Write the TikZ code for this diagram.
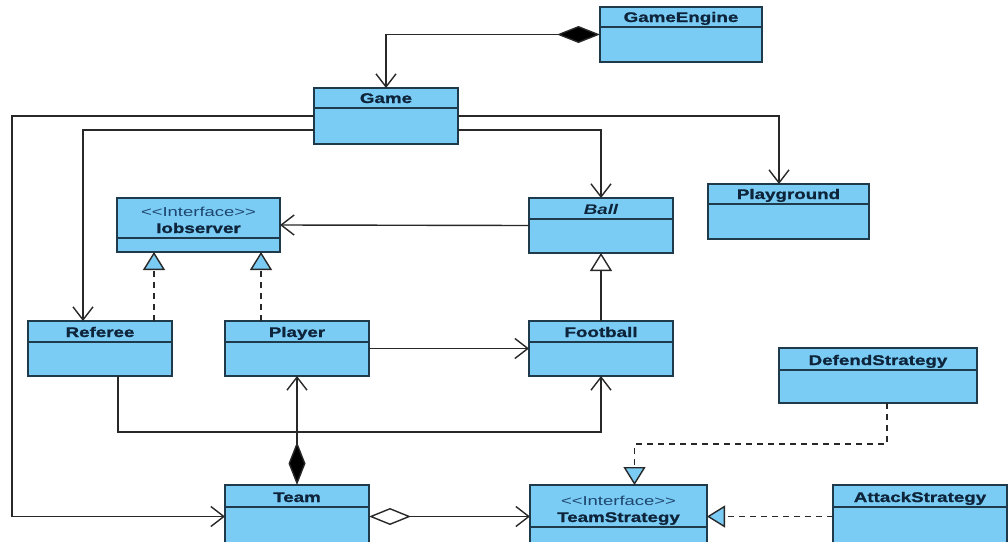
\documentclass[tikz,border=0pt]{standalone}
\usepackage{fontspec}
\newfontfamily\umlfont[FakeStretch=1.34, BoldFeatures={FakeBold=1.2}]{Liberation Sans}
\newfontfamily\stereofont[FakeStretch=1.42]{Liberation Sans}
\usetikzlibrary{arrows.meta,calc}

\definecolor{classfill}{RGB}{122,204,245}
\definecolor{classedge}{RGB}{30,58,75}
\definecolor{classtext}{RGB}{14,36,58}
\definecolor{stereotext}{RGB}{30,70,110}
\definecolor{linkcol}{RGB}{40,40,40}

\tikzset{
  classbox/.style={draw=classedge, fill=classfill, line width=1.5pt, inner sep=0pt, outer sep=0pt},
  divider/.style={draw=classedge, line width=1.5pt},
  titletext/.style={font=\umlfont\bfseries\fontsize{14}{19}\selectfont, text=classtext, inner sep=0pt},
  stereolabel/.style={font=\stereofont\fontsize{13}{19}\selectfont, text=stereotext, inner sep=0pt},
  link/.style={draw=linkcol, line width=1.4pt},
  navig/.style={link, -{Straight Barb[length=13pt,width=20pt]}},
  compnav/.style={link, {Diamond[length=43pt,width=17pt,fill=black]}-{Straight Barb[length=13pt,width=20pt]}},
  aggnav/.style={link, {Diamond[length=42pt,width=17pt,fill=white]}-{Straight Barb[length=13pt,width=20pt]}},
  realize/.style={link, dash pattern=on 6pt off 5pt, -{Triangle[length=18pt,width=22pt,fill=classfill]}},
  generalize/.style={link, -{Triangle[length=18pt,width=22pt,fill=white]}},
}

% class box: name, x1, y1, x2, y2, divider y, title
\newcommand\umlclass[7]{%
  \node[classbox, anchor=north west, minimum width={(#4-#2)*1pt}, minimum height={(#5-#3)*1pt}] (#1) at (#2,#3) {};
  \draw[divider] (#2,#6) -- (#4,#6);
  \node[titletext, anchor=base] (#1-name) at ($(#2,#6)!0.5!(#4,#6)+(0,-5)$) {#7};
}
% stereotype line above a class name
\newcommand\umlstereo[1]{%
  \node[stereolabel, anchor=base] (#1-stereo) at ($(#1-name.base)+(0,-17)$) {<\kern0pt<Interface>\kern0pt>};
}

\begin{document}
\begin{tikzpicture}[x=1pt, y=-1pt]
  \useasboundingbox (0,0) rectangle (1008,541);
  \fill[white] (0,0) rectangle (1008,541);
  \clip (0,0) rectangle (1008,541);

  % classes
  \umlclass{ge}{600}{7}{762}{62}{27}{GameEngine}
  \umlclass{game}{314}{88}{458}{144}{108}{Game}
  \umlclass{pg}{708}{184}{869}{239}{204}{Playground}
  \umlclass{ball}{529}{198}{673}{253}{219}{\itshape Ball}
  \umlclass{iob}{117}{198}{280}{252}{238}{Iobserver}
  \umlstereo{iob}
  \umlclass{ref}{28}{321}{172}{376}{342}{Referee}
  \umlclass{player}{225}{321}{369}{376}{342}{Player}
  \umlclass{fb}{529}{321}{673}{376}{342}{Football}
  \umlclass{ds}{779}{348}{977}{403}{370}{DefendStrategy}
  \umlclass{team}{225}{485}{369}{548}{507}{Team}
  \umlclass{ts}{530}{485}{707}{548}{527}{TeamStrategy}
  \umlstereo{ts}
  \umlclass{as}{833}{485}{1007}{548}{507}{AttackStrategy}

  % associations
  \draw[compnav] (ge.west) -| (game.north);
  \draw[navig] (game.west) -- (12,116) |- (team.west);
  \draw[navig] ([yshift=-14pt]game.west) -| ([xshift=-17pt]ref.north);
  \draw[navig] ([yshift=-14pt]game.east) -| (ball.north);
  \draw[navig] (game.east) -| ([xshift=-9.5pt]pg.north);
  \draw[navig] (ball.west) -- (iob.east);
  \draw[navig] (player.east) -- (fb.west);
  \draw[navig] ([xshift=18pt]ref.south) -- ++(0,56) -| (fb.south);
  \draw[compnav] (team.north) -- (player.south);
  \draw[aggnav] (team.east) -- (ts.west);

  % inheritance and realization
  \draw[generalize] (fb.north) -- (ball.south);
  \draw[realize] ([xshift=54pt]ref.north) -- ([xshift=54pt]ref.north |- iob.south);
  \draw[realize] ([xshift=-36pt]player.north) -- ([xshift=-36pt]player.north |- iob.south);
  \draw[realize] (as.west) -- (ts.east);
  \draw[realize] ([xshift=9pt]ds.south) -- ++(0,41) -| ([xshift=16pt]ts.north);
\end{tikzpicture}
\end{document}
